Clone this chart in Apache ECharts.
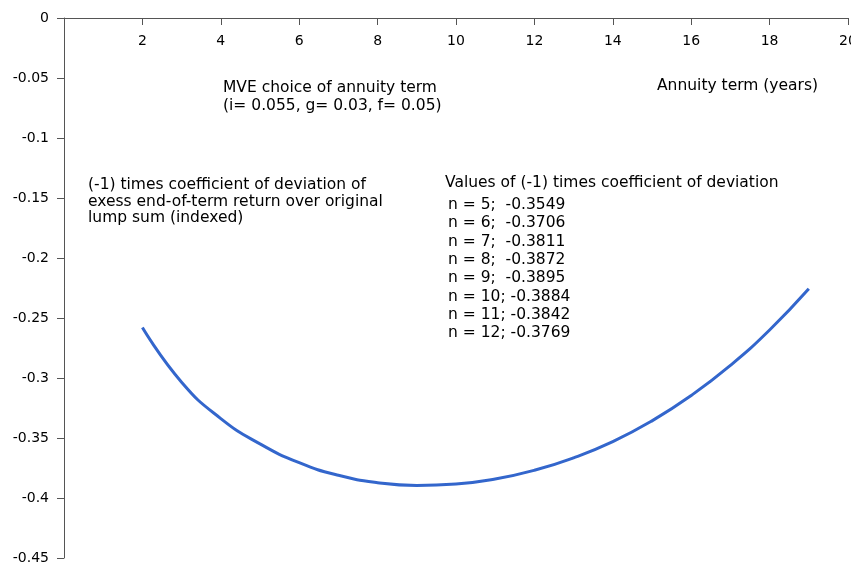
<!DOCTYPE html>
<html>
<head>
<meta charset="utf-8">
<script src="https://cdn.jsdelivr.net/npm/echarts@6/dist/echarts.min.js"></script>
<style>
  html, body { margin: 0; padding: 0; background: #fff; }
  #mycharts { width: 851px; height: 563px; }
</style>
</head>
<body>
<div id="mycharts"></div>
<script>
// annuity term n (years) and (-1) times coefficient of deviation
var terms = [2, 3, 4, 5, 6, 7, 8, 9, 10, 11, 12, 13, 14, 15, 16, 17, 18, 19];
var coefValues = [-0.258, -0.3035, -0.3338, -0.3549, -0.3706, -0.3811, -0.3872, -0.3895, -0.3884,
    -0.3842, -0.3769, -0.3665, -0.353, -0.3357, -0.3146, -0.2895, -0.260, -0.2257];

// the values listed in the text box
var tableTerms = [5, 6, 7, 8, 9, 10, 11, 12];
var tableValues = ['-0.3549', '-0.3706', '-0.3811', '-0.3872', '-0.3895', '-0.3884', '-0.3842', '-0.3769'];

var titleLines = ['MVE choice of annuity term', '(i= 0.055, g= 0.03, f= 0.05)'];
var yNameLines = ['(-1) times coefficient of deviation of', 'exess end-of-term return over original', 'lump sum (indexed)'];
var xName = 'Annuity term (years)';
var tableTitle = 'Values of (-1) times coefficient of deviation';

var font = '"DejaVu Sans", sans-serif';

var tableLines = tableTerms.map(function (n, i) {
    var sep = n < 10 ? ';  ' : '; ';
    return 'n = ' + n + sep + tableValues[i];
});

var chart = echarts.init(document.getElementById('mycharts'));

var textStyle = function (txt, lh) {
    return {
        text: txt,
        font: '15.5px ' + font,
        fill: '#000',
        lineHeight: lh
    };
};

chart.setOption({
    animation: false,
    backgroundColor: '#fff',
    grid: {
        left: 64,
        right: 3,
        top: 18,
        bottom: 5,
        outerBoundsMode: 'none'
    },
    xAxis: {
        type: 'value',
        position: 'top',
        min: 0,
        max: 20,
        interval: 2,
        axisLine: {onZero: false, lineStyle: {color: '#555', width: 1}},
        axisTick: {inside: true, length: 7, lineStyle: {color: '#555'}},
        splitLine: {show: false},
        axisLabel: {
            inside: true,
            margin: 16,
            showMinLabel: false,
            color: '#000',
            fontSize: 14,
            fontFamily: font
        }
    },
    yAxis: {
        type: 'value',
        min: -0.45,
        max: 0,
        interval: 0.05,
        axisLine: {show: true, onZero: false, lineStyle: {color: '#555', width: 1}},
        axisTick: {show: true, length: 7, lineStyle: {color: '#555'}},
        splitLine: {show: false},
        axisLabel: {
            margin: 15,
            color: '#000',
            fontSize: 14,
            fontFamily: font
        }
    },
    series: [{
        type: 'line',
        data: terms.map(function (n, i) {
            return [n, coefValues[i]];
        }),
        smooth: 0.5,
        showSymbol: false,
        lineStyle: {color: '#3366cc', width: 3}
    }],
    graphic: [
        {type: 'text', left: 223, top: 79, style: textStyle(titleLines.join('\n'), 18)},
        {type: 'text', left: 657, top: 77, style: textStyle(xName, 18)},
        {type: 'text', left: 88, top: 176.5, style: textStyle(yNameLines.join('\n'), 16.7)},
        {type: 'text', left: 445, top: 174, style: textStyle(tableTitle, 18)},
        {type: 'text', left: 448, top: 196, style: textStyle(tableLines.join('\n'), 18.3)}
    ]
});
</script>
</body>
</html>
